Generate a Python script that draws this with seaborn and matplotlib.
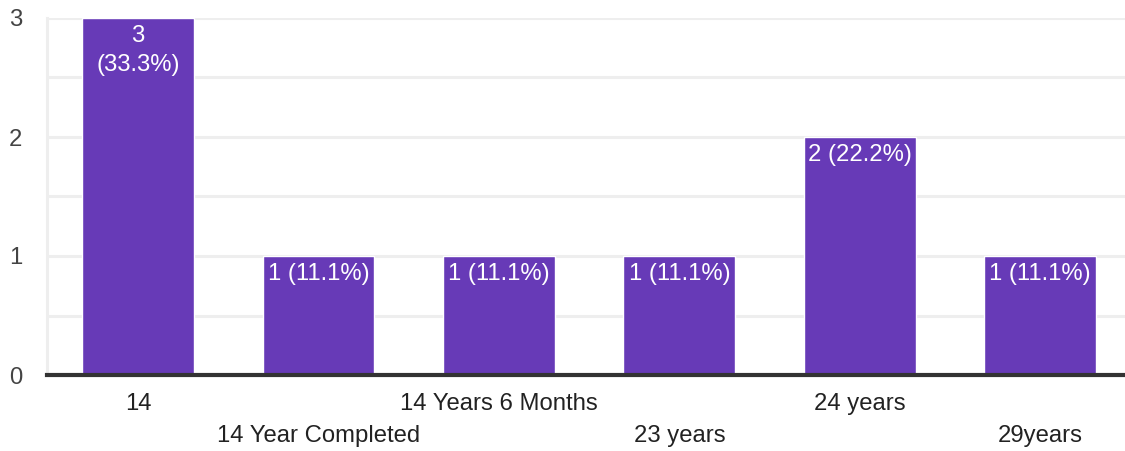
import matplotlib
matplotlib.use("Agg")
import matplotlib.pyplot as plt
import seaborn as sns
import pandas as pd
from matplotlib.ticker import MultipleLocator

# Survey responses: age of respondents
categories = ["14", "14 Year Completed", "14 Years 6 Months", "23 years", "24 years", "29years"]
counts = [3, 1, 1, 1, 2, 1]

total = sum(counts)
df = pd.DataFrame({"answer": categories, "count": counts})

sns.set_theme(style="white")
plt.rcParams["font.family"] = ["Liberation Sans", "DejaVu Sans"]

BAR = "#673ab7"
GRID = "#eeeeee"
FS = 17.2

fig = plt.figure(figsize=(11.25, 4.51), dpi=100)
ax = fig.add_axes([47 / 1125, 76 / 451, 1 - 47 / 1125, 357 / 451])

sns.barplot(data=df, x="answer", y="count", color=BAR, saturation=1,
            width=0.62, ax=ax, zorder=3)

ax.set_xlim(-0.505, 5.47)
ax.set_ylim(0, 3)
ax.yaxis.set_major_locator(MultipleLocator(1))
ax.yaxis.set_minor_locator(MultipleLocator(0.5))
ax.grid(which="both", axis="y", color=GRID, linewidth=2.2, zorder=0)
ax.grid(axis="x", visible=False)

for side in ("top", "right"):
    ax.spines[side].set_visible(False)
ax.spines["left"].set_color(GRID)
ax.spines["left"].set_linewidth(2.2)
ax.spines["bottom"].set_color("#333333")
ax.spines["bottom"].set_linewidth(3)
ax.spines["bottom"].set_zorder(5)

ax.set_xlabel("")
ax.set_ylabel("")
ax.tick_params(axis="y", which="both", length=0, pad=18, labelsize=FS, labelcolor="#444444")
ax.tick_params(axis="x", length=0)

# staggered category labels
ax.set_xticks(range(len(categories)))
ax.set_xticklabels([])
for i, name in enumerate(categories):
    ax.annotate(name, xy=(i, 0), xycoords="data",
                xytext=(0, -29 if i % 2 == 0 else -61), textcoords="offset pixels",
                ha="center", va="center", fontsize=FS, color="#222222")

# value labels inside the top of each bar
for i, c in enumerate(counts):
    pct = 100 * c / total
    sep = "\n" if i == 0 else " "
    ax.annotate(f"{c}{sep}({pct:.1f}%)", xy=(i, c), xycoords="data",
                xytext=(0, -7), textcoords="offset pixels",
                ha="center", va="top", fontsize=FS, color="white",
                linespacing=1.4, zorder=6)

fig.savefig("out.png", dpi=100)
